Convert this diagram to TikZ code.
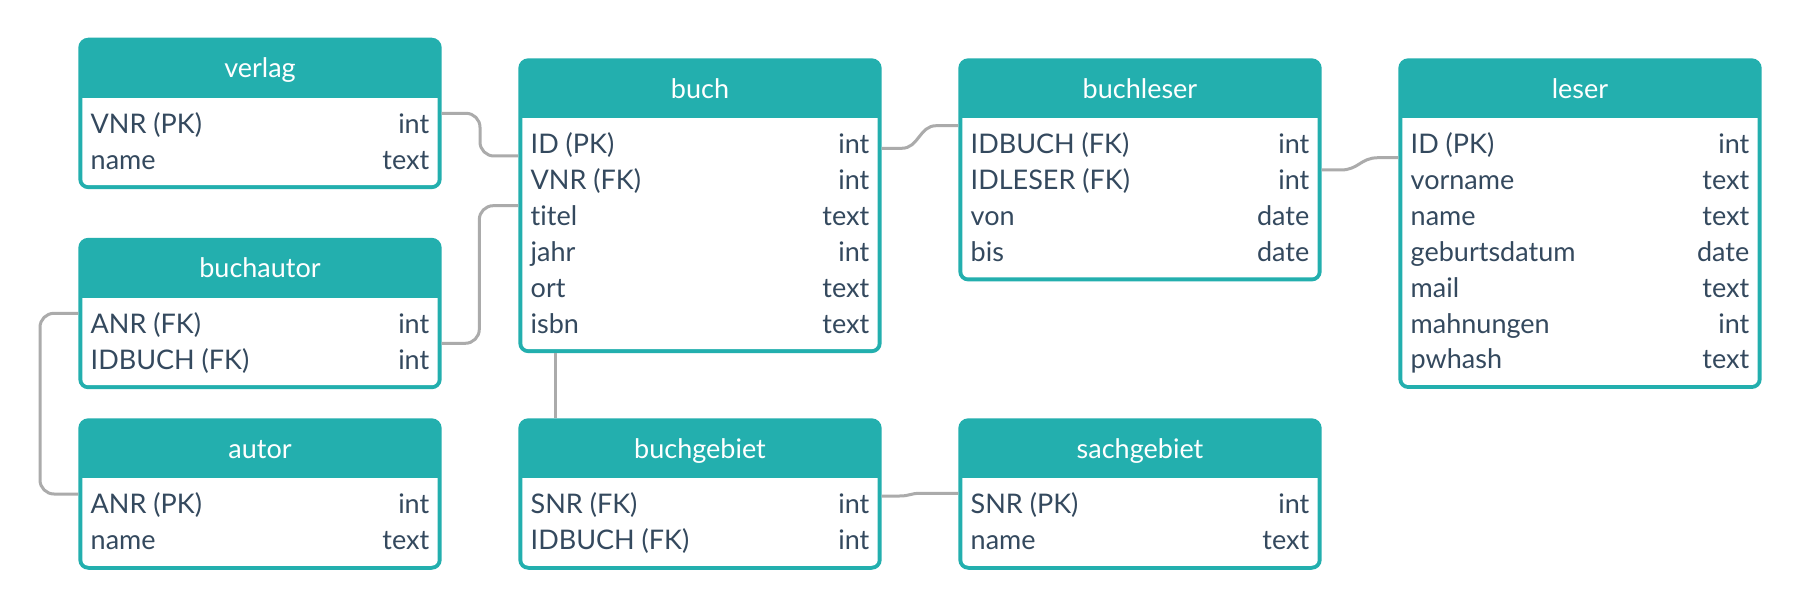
\documentclass[tikz,border=0pt]{standalone}
\usepackage{fontspec}
\setmainfont{Lato}[Ligatures=NoCommon]
\usetikzlibrary{calc}
\definecolor{teal1}{HTML}{23AFAE}
\definecolor{txt}{HTML}{34495E}
\definecolor{conncol}{HTML}{ABABAB}
\tikzset{
  tbox/.style={rectangle, rounded corners=10pt, fill=teal1, draw=none, minimum width=363.4pt, inner sep=0pt, outer sep=0pt},
  ttitle/.style={anchor=base, text=white, inner sep=0pt, outer sep=0pt, font=\fontsize{27}{30}\selectfont},
  rowtext/.style={text=txt, inner sep=0pt, outer sep=0pt, font=\fontsize{27}{30}\selectfont},
  conn/.style={draw=conncol, line width=3pt, rounded corners=14pt},
  sconn/.style={draw=conncol, line width=3pt, sharp corners}
}
\newcommand{\ertable}[6]{%
  \pgfmathsetmacro\tabh{115.6+35.85*(#4-1)}%
  \def\curtab{#1}%
  \begin{scope}[shift={(#2,#3)}]
    \node[tbox, minimum height=\tabh pt, anchor=north west] (#1) at (0,0) {};
    \fill[white, rounded corners=6pt] (4,50) rectangle (359.4,{\tabh-4});
    \fill[teal1] (4,45) rectangle (359.4,60);
    \node[ttitle] (#1-title) at (181.7,40) {#5};
    #6
  \end{scope}}
\newcommand{\errow}[3]{%
  \node[rowtext, anchor=base west] (\curtab-l#1) at (12.4,{95.6+35.85*(#1-1)}) {#2};
  \node[rowtext, anchor=base east] (\curtab-r#1) at (351,{95.6+35.85*(#1-1)}) {#3};}
\begin{document}
\begin{tikzpicture}[x=1pt, y=-1pt]
\fill[white] (0,0) rectangle (1800,609);
\useasboundingbox (0,0) rectangle (1800,609);

\ertable{verlag}{78.3}{37.7}{2}{verlag}{%
  \errow{1}{VNR (PK)}{int}
  \errow{2}{name}{text}}
\ertable{buch}{518.3}{58.3}{6}{buch}{%
  \errow{1}{ID (PK)}{int}
  \errow{2}{VNR (FK)}{int}
  \errow{3}{titel}{text}
  \errow{4}{jahr}{int}
  \errow{5}{ort}{text}
  \errow{6}{isbn}{text}}
\ertable{buchleser}{958.3}{58.3}{4}{buchleser}{%
  \errow{1}{IDBUCH (FK)}{int}
  \errow{2}{IDLESER (FK)}{int}
  \errow{3}{von}{date}
  \errow{4}{bis}{date}}
\ertable{leser}{1398.3}{58.3}{7}{leser}{%
  \errow{1}{ID (PK)}{int}
  \errow{2}{vorname}{text}
  \errow{3}{name}{text}
  \errow{4}{geburtsdatum}{date}
  \errow{5}{mail}{text}
  \errow{6}{mahnungen}{int}
  \errow{7}{pwhash}{text}}
\ertable{buchautor}{78.3}{237.8}{2}{buchautor}{%
  \errow{1}{ANR (FK)}{int}
  \errow{2}{IDBUCH (FK)}{int}}
\ertable{autor}{78.3}{418.3}{2}{autor}{%
  \errow{1}{ANR (PK)}{int}
  \errow{2}{name}{text}}
\ertable{buchgebiet}{518.3}{418.3}{2}{buchgebiet}{%
  \errow{1}{SNR (FK)}{int}
  \errow{2}{IDBUCH (FK)}{int}}
\ertable{sachgebiet}{958.3}{418.3}{2}{sachgebiet}{%
  \errow{1}{SNR (PK)}{int}
  \errow{2}{name}{text}}

% connectors
\draw[conn] ($(verlag.north east)+(0,75.6)$) -- ++(38.3,0) |- ($(buch.north west)+(0,97.7)$);
\draw[conn] ($(buchautor.north east)+(0,105.5)$) -- ++(37.6,0) |- ($(buch.north west)+(0,147.4)$);
\draw[conn] ($(buchautor.north west)+(0,75.5)$) -- ++(-38.3,0) |- ($(autor.north west)+(0,75.7)$);
\draw[sconn] ($(buch.south west)+(37.4,0)$) -- ($(buchgebiet.north west)+(37.4,0)$);

\path ($(buch.north east)+(0,90)$) coordinate (p5a)
      ($(buchleser.north west)+(0,67.4)$) coordinate (p5b);
\draw[sconn] (p5a) -- ++(20,0) .. controls +(17,0) and +(-17,0) .. ($(p5b)+(-22,0)$) -- (p5b);

\path ($(buchleser.north east)+(0,111.7)$) coordinate (p6a)
      ($(leser.north west)+(0,99.4)$) coordinate (p6b);
\draw[sconn] (p6a) -- ++(19,0) .. controls +(18,0) and +(-18,0) .. ($(p6b)+(-20,0)$) -- (p6b);

\path ($(buchgebiet.north east)+(0,77.7)$) coordinate (p7a)
      ($(sachgebiet.north west)+(0,75)$) coordinate (p7b);
\draw[sconn] (p7a) -- ++(18,0) .. controls +(10,0) and +(-10,0) .. ($(p7b)+(-38,0)$) -- (p7b);
\end{tikzpicture}
\end{document}
